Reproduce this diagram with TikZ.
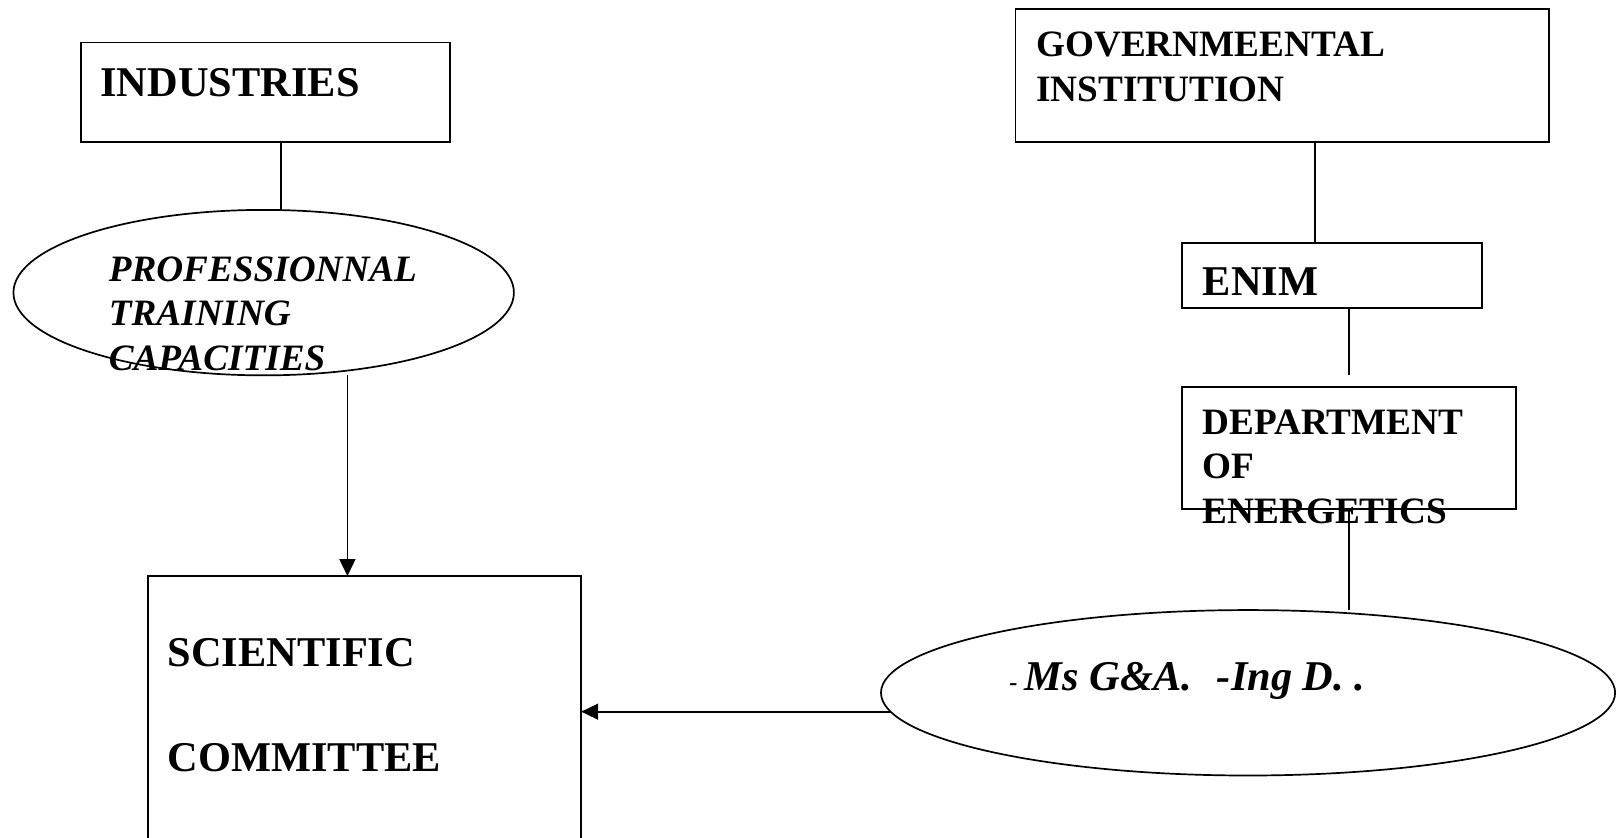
\documentclass[tikz,border=0pt]{standalone}
\usepackage{fontspec}
\setmainfont{Liberation Serif}
\usetikzlibrary{arrows.meta,shapes.geometric}
\tikzset{
  box/.style={draw, line width=1.7pt, inner sep=0pt, outer sep=0pt},
  oval/.style={draw, ellipse, line width=1.7pt, inner sep=0pt, outer sep=0pt},
  conn/.style={line width=1.7pt},
  arr/.style={line width=1.7pt, -{Triangle[length=17pt,width=16pt]}},
  big/.style={anchor=base west, inner sep=0pt, font=\fontsize{41}{49}\selectfont\bfseries},
  mid/.style={anchor=base west, inner sep=0pt, font=\fontsize{36}{43}\selectfont\bfseries},
  midit/.style={anchor=base west, inner sep=0pt, font=\fontsize{36}{43}\selectfont\bfseries\itshape},
  bigit/.style={anchor=base west, inner sep=0pt, font=\fontsize{41}{49}\selectfont\bfseries\itshape},
}
\begin{document}
\begin{tikzpicture}[x=1pt,y=-1pt,scale=1.034,every node/.append style={transform shape}]
\useasboundingbox (0,0) rectangle (1562.86,809.48);
\begin{scope}
\clip (0,0) rectangle (1562.86,809.48);
% boxes
\node[box, minimum width=357pt, minimum height=96pt] (ind) at (256.5,89) {};
\node[box, minimum width=419pt, minimum height=300pt] (sci) at (352.5,707) {};
\node[box, minimum width=516pt, minimum height=128pt] (gov) at (1240,73) {};
\node[box, minimum width=290pt, minimum height=63pt] (enim) at (1288,266.5) {};
\node[box, minimum width=323pt, minimum height=118pt] (dep) at (1304.5,433) {};
% ellipses
\node[oval, minimum width=484pt, minimum height=160pt] (pro) at (255,283) {};
\node[oval, minimum width=710pt, minimum height=160pt] (ms) at (1207,670) {};
% texts
\node[big] (indt) at (97,93) {INDUSTRIES};
\node[midit] (pro1) at (105,272) {PROFESSIONNAL};
\node[midit] (pro2) at (105,315) {TRAINING};
\node[midit] (pro3) at (105,358) {CAPACITIES};
\node[big] (sci1) at (162,645) {SCIENTIFIC};
\node[big] (sci2) at (162,746) {COMMITTEE};
\node[mid] (gov1) at (1002,55) {GOVERNMEENTAL};
\node[mid] (gov2) at (1002,98) {INSTITUTION};
\node[big] (enimt) at (1163,286) {ENIM};
\node[mid] (dep1) at (1163,420) {DEPARTMENT};
\node[mid] (dep2) at (1163,463) {OF};
\node[mid] (dep3) at (1163,506) {ENERGETICS};
\node[anchor=base west, inner sep=0pt, font=\fontsize{24}{28}\selectfont\bfseries\itshape] (msd) at (976,668) {-};
\node[bigit] (mst) at (991,668) {Ms G\&A.\hspace{24pt}-Ing D. .};
% connectors
\coordinate (c1) at (272,137);
\coordinate (c2) at (1304,363);
\draw[conn] (ind.south -| c1) -- (pro.north -| c1);
\draw[arr] (pro.south -| 336,0) -- (sci.north -| 336,0);
\draw[conn] (gov.south -| 1272,0) -- (enim.north -| 1272,0);
\draw[conn] (enim.south -| c2) -- (c2);
\draw[conn] (dep.south -| c2) -- (ms.north -| c2);
\draw[arr] (ms.183) -- (sci.east |- ms.183);
\end{scope}
\end{tikzpicture}
\end{document}
